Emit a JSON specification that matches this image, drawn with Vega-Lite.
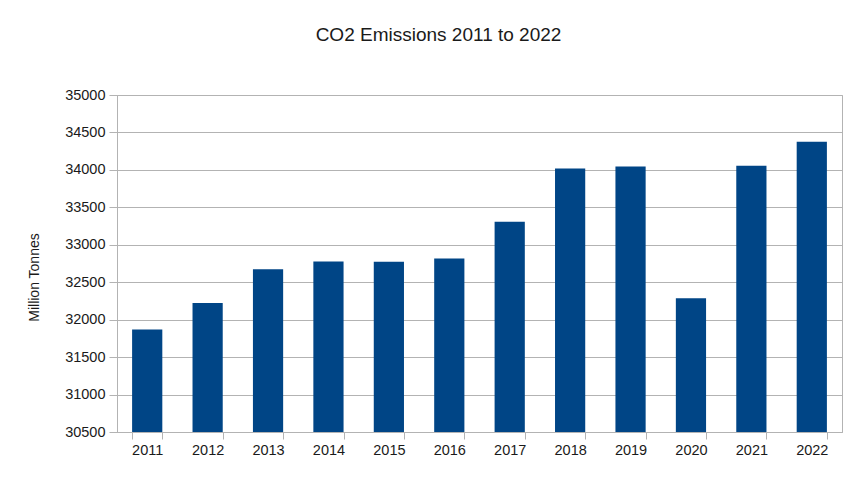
{
  "$schema": "https://vega.github.io/schema/vega-lite/v6.json",
  "autosize": {"type": "none"},
  "width": 725,
  "height": 337,
  "padding": {"left": 117, "top": 95, "right": 21, "bottom": 55},
  "background": "white",
  "title": {
    "text": "CO2 Emissions 2011 to 2022",
    "font": "Liberation Sans",
    "fontSize": 19,
    "fontWeight": "normal",
    "color": "#1a1a1a",
    "offset": 42,
    "dx": -41
  },
  "data": {
    "values": [
      {"year": "2011", "emissions": 31868},
      {"year": "2012", "emissions": 32223},
      {"year": "2013", "emissions": 32674},
      {"year": "2014", "emissions": 32776},
      {"year": "2015", "emissions": 32772},
      {"year": "2016", "emissions": 32816},
      {"year": "2017", "emissions": 33307},
      {"year": "2018", "emissions": 34020},
      {"year": "2019", "emissions": 34046},
      {"year": "2020", "emissions": 32286},
      {"year": "2021", "emissions": 34055},
      {"year": "2022", "emissions": 34376}
    ]
  },
  "mark": {"type": "bar", "color": "#004586", "clip": true},
  "encoding": {
    "x": {
      "field": "year",
      "type": "ordinal",
      "scale": {"paddingInner": 0.5, "paddingOuter": 0.25},
      "axis": {
        "title": null,
        "labelAngle": 0,
        "tickBand": "extent",
        "tickSize": 7,
        "labelPadding": 4,
        "labelFont": "Liberation Sans",
        "labelFontSize": 14.5,
        "labelColor": "#1a1a1a",
        "domainColor": "#b3b3b3",
        "tickColor": "#b3b3b3",
        "grid": false
      }
    },
    "y": {
      "field": "emissions",
      "type": "quantitative",
      "scale": {"domain": [30500, 35000], "nice": false, "zero": false},
      "axis": {
        "title": "Million Tonnes",
        "values": [30500, 31000, 31500, 32000, 32500, 33000, 33500, 34000, 34500, 35000],
        "format": "d",
        "tickSize": 8,
        "labelPadding": 4,
        "labelFont": "Liberation Sans",
        "labelFontSize": 14.5,
        "labelColor": "#1a1a1a",
        "titleFont": "Liberation Sans",
        "titleFontSize": 14,
        "titleFontWeight": "normal",
        "titleColor": "#1a1a1a",
        "titleAngle": -90,
        "titleAlign": "center",
        "titleBaseline": "middle",
        "titleX": -83,
        "titleY": 182,
        "domainColor": "#b3b3b3",
        "tickColor": "#b3b3b3",
        "gridColor": "#b3b3b3",
        "gridOpacity": 1
      }
    }
  },
  "config": {
    "view": {"stroke": "#b3b3b3"}
  }
}
